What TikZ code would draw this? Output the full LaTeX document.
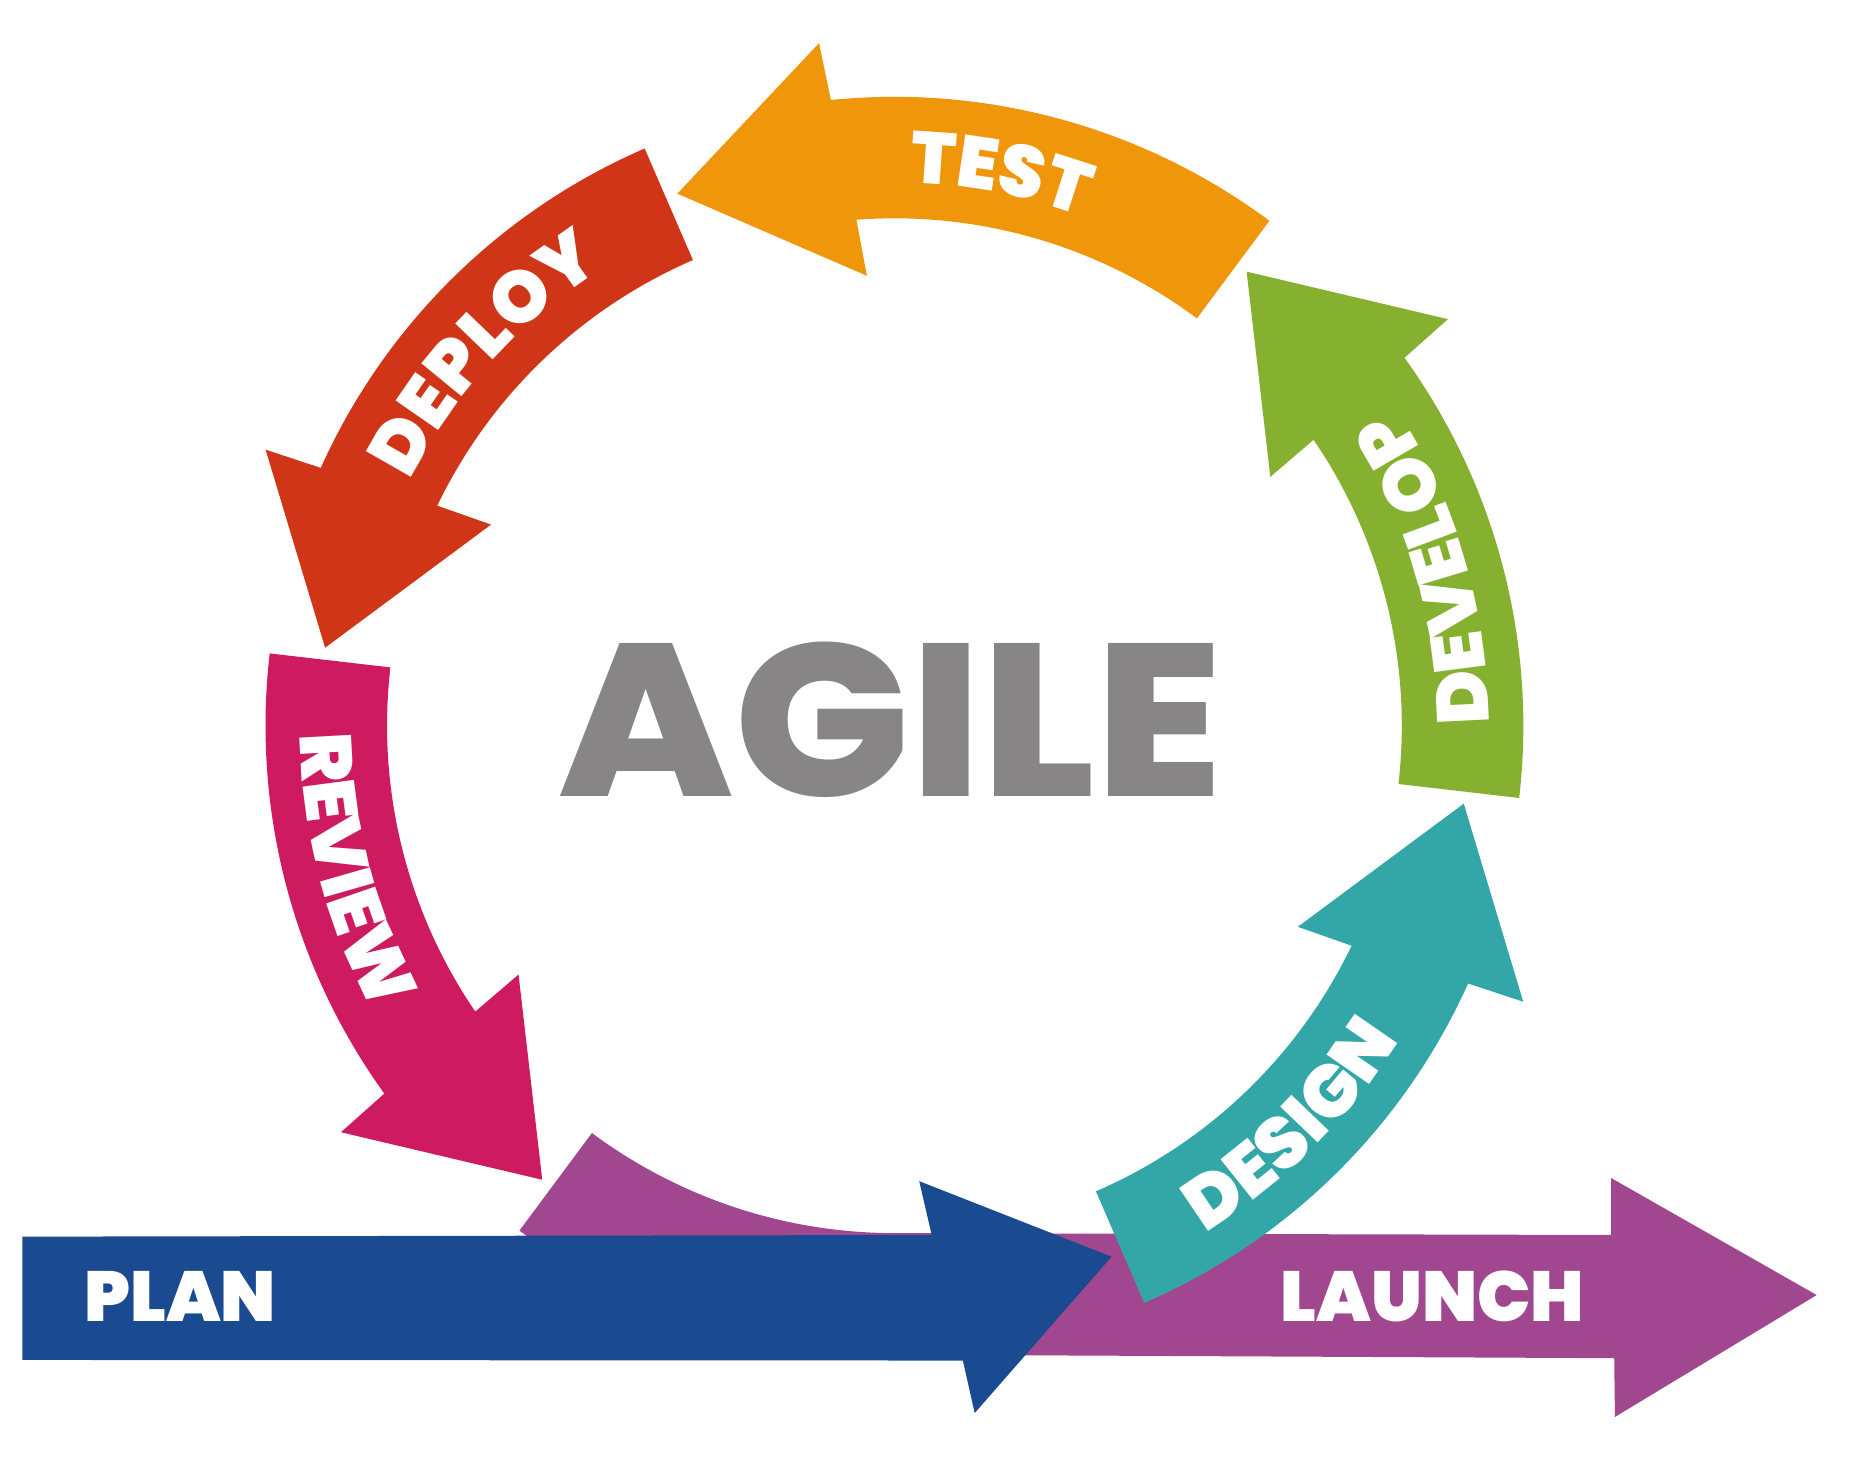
\documentclass[tikz,border=0pt]{standalone}
\usepackage{fontspec}
\setmainfont{Poppins}
\newfontfamily\heavy{Poppins Black}
\newfontfamily\agilefont{Poppins ExtraBold}[FakeStretch=1.07]
\usetikzlibrary{decorations.text}
\definecolor{cOrange}{HTML}{F0960A}
\definecolor{cRed}{HTML}{D03518}
\definecolor{cMagenta}{HTML}{CE1A5E}
\definecolor{cPurple}{HTML}{A0478F}
\definecolor{cBlue}{HTML}{1A4B91}
\definecolor{cTeal}{HTML}{33A6A8}
\definecolor{cGreen}{HTML}{86B030}
\definecolor{cGrey}{HTML}{878585}
\newcommand\RingArrow[2]{%
  \fill[#1] ({#2}:533) arc[start angle={#2}, end angle={#2+42.4}, radius=533]
    -- ({#2+42.9}:582) -- ({#2+58.8}:487) -- ({#2+40.1}:382) -- ({#2+40.9}:430)
    arc[start angle={#2+40.9}, end angle={#2}, radius=430] -- cycle;}
\newcommand\ringfont{\heavy\fontsize{31}{31}\selectfont}
% text with tops facing outwards (clockwise path)
\newcommand\OutLabel[2]{%
  \path[decorate, decoration={text along path, text={|\ringfont|#2}, text align=center, text color=white}]
    ({#1+30}:460) arc[start angle={#1+30}, end angle={#1-30}, radius=460];}
% text with tops facing inwards (counter-clockwise path)
\newcommand\InLabel[2]{%
  \path[decorate, decoration={text along path, text={|\ringfont|#2}, text align=center, text color=white}]
    ({#1-30}:504) arc[start angle={#1-30}, end angle={#1+30}, radius=504];}
\tikzset{
  lab/.style={font=\heavy\fontsize{30}{30}\selectfont, text=white, inner sep=0pt},
  title/.style={font=\agilefont\fontsize{92}{92}\selectfont, text=cGrey, inner sep=0pt}
}
\begin{document}
\begin{tikzpicture}[x=0.5pt, y=0.5pt]
\useasboundingbox (-758,-629) rectangle (811.5,615);
% LAUNCH (purple) arrow
\fill[cPurple] (233.4:533) arc[start angle=233.4, end angle=270, radius=533]
  -- (610,-536) -- (610.6,-585.8) -- (781.6,-482.5) -- (607.3,-383.3)
  -- (607.3,-431.6) -- (270:430) arc[start angle=270, end angle=233.4, radius=430] -- cycle;
% PLAN (blue) arrow
\fill[cBlue] (-739,-433) -- (31.6,-431.6) -- (21,-386) -- (184,-450)
  -- (68,-582.5) -- (58,-538) -- (-739,-537.5) -- cycle;
% ring arrows
\RingArrow{cTeal}{293.4}
\RingArrow{cGreen}{-6.6}
\RingArrow{cOrange}{53.4}
\RingArrow{cRed}{113.4}
\RingArrow{cMagenta}{173.4}
% ring labels
\OutLabel{79.1}{TEST}
\OutLabel{137.8}{DEPLOY}
\InLabel{194.8}{REVIEW}
\InLabel{16.3}{DEVELOP}
\InLabel{314.8}{DESIGN}
% straight labels
\node[lab, anchor=base west] (plan) at (-687,-505) {PLAN};
\node[lab, anchor=base west] (launch) at (327,-505) {LAUNCH};
\node[title, anchor=base] (agile) at (-3,-60) {AGILE};
\end{tikzpicture}
\end{document}
